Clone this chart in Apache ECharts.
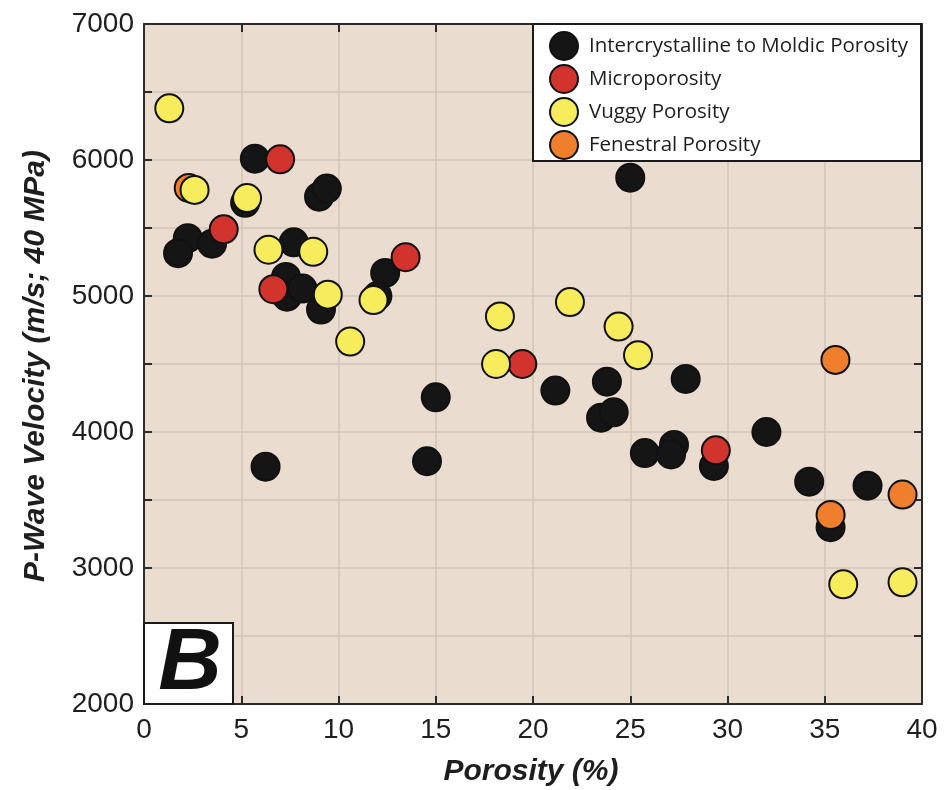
<!DOCTYPE html>
<html>
<head>
<meta charset="utf-8">
<script src="https://cdn.jsdelivr.net/npm/echarts@6/dist/echarts.min.js"></script>
<style>
  html, body { margin: 0; padding: 0; background: #ffffff; }
  #chart { width: 945px; height: 790px; }
</style>
</head>
<body>
<div id="chart"></div>
<script>
// Porosity (%) vs P-wave velocity (m/s) at 40 MPa, grouped by pore type
const seriesNames = [
  'Intercrystalline to Moldic Porosity',
  'Microporosity',
  'Vuggy Porosity',
  'Fenestral Porosity'
];

const intercrystalline = [
  [5.7, 6010], [5.2, 5685], [9.0, 5730], [9.4, 5790], [2.25, 5425],
  [3.5, 5385], [1.75, 5315], [7.7, 5395], [12.4, 5170], [7.3, 5140],
  [7.35, 4995], [8.15, 5055], [9.1, 4900], [12.0, 5000], [6.25, 3745],
  [15.0, 4255], [14.55, 3785], [25.0, 5870], [21.15, 4305], [23.8, 4370],
  [23.5, 4105], [24.15, 4145], [27.85, 4390], [25.75, 3845], [27.25, 3905],
  [27.1, 3835], [29.3, 3750], [32.0, 4000], [34.2, 3635], [37.2, 3605],
  [35.3, 3300]
];

const microporosity = [
  [7.0, 6005], [4.1, 5490], [13.45, 5285], [6.65, 5050], [19.45, 4500],
  [29.4, 3865]
];

const vuggy = [
  [1.3, 6380], [2.6, 5780], [5.3, 5720], [6.4, 5340], [8.7, 5325],
  [9.45, 5010], [11.8, 4970], [10.6, 4665], [18.3, 4850], [21.9, 4955],
  [24.4, 4775], [25.4, 4565], [18.1, 4500], [35.95, 2880], [39.0, 2895]
];

const fenestral = [
  [2.3, 5795], [35.55, 4530], [39.0, 3540], [35.3, 3390]
];

const xTicks = { min: 0, max: 40, step: 5 };
const yTicks = { min: 2000, max: 7000, step: 500, labelStep: 1000 };

const colors = ['#151515', '#d2332d', '#f6ec5c', '#ef7f2c'];
const zOrder = [2, 4, 5, 3];
const groups = [intercrystalline, microporosity, vuggy, fenestral];

const axisColor = '#2b2b2b';
const labelFont = 'Liberation Sans, Arial, sans-serif';

const chart = echarts.init(document.getElementById('chart'), null, { renderer: 'canvas' });

// mirror axes on the top and right close the frame, with inward ticks only
function frameAxis(extra) {
  return Object.assign({
    type: 'value',
    axisLine: { show: true, onZero: false, lineStyle: { color: axisColor, width: 2 } },
    axisTick: { show: true, inside: true, length: 8, lineStyle: { color: axisColor, width: 2 } },
    axisLabel: { show: false },
    splitLine: { show: false }
  }, extra);
}

const option = {
  animation: false,
  backgroundColor: '#ffffff',
  grid: {
    left: 144, right: 23, top: 24, bottom: 86,
    show: true, backgroundColor: '#eadccf', borderWidth: 0
  },
  xAxis: [
    {
      type: 'value', min: xTicks.min, max: xTicks.max, interval: xTicks.step,
      position: 'bottom',
      axisLine: { show: true, onZero: false, lineStyle: { color: axisColor, width: 2 } },
      axisTick: { show: true, inside: true, length: 8, lineStyle: { color: axisColor, width: 2 } },
      axisLabel: { color: '#1e1e1e', fontSize: 28, fontFamily: labelFont, margin: 12 },
      splitLine: { show: true, lineStyle: { color: '#d0c4b8', width: 1.5 } }
    },
    frameAxis({ min: xTicks.min, max: xTicks.max, interval: xTicks.step, position: 'top' })
  ],
  yAxis: [
    {
      type: 'value', min: yTicks.min, max: yTicks.max, interval: yTicks.step,
      position: 'left',
      axisLine: { show: true, onZero: false, lineStyle: { color: axisColor, width: 2 } },
      axisTick: { show: true, inside: true, length: 8, lineStyle: { color: axisColor, width: 2 } },
      axisLabel: {
        color: '#1e1e1e', fontSize: 28, fontFamily: labelFont, margin: 10,
        formatter: v => (v % yTicks.labelStep === 0 ? String(v) : '')
      },
      splitLine: { show: true, lineStyle: { color: '#d0c4b8', width: 1.5 } }
    },
    frameAxis({ min: yTicks.min, max: yTicks.max, interval: yTicks.step, position: 'right' })
  ],
  legend: {
    show: true,
    orient: 'vertical',
    left: 549, top: 31,
    padding: 0,
    itemWidth: 40, itemHeight: 28, itemGap: 3,
    data: seriesNames,
    textStyle: { color: '#1e1e1e', fontSize: 20.5, fontFamily: 'Open Sans, sans-serif' },
    z: 20
  },
  series: groups.map((d, i) => ({
    name: seriesNames[i],
    type: 'scatter',
    data: d,
    symbol: 'circle',
    symbolSize: 28,
    z: zOrder[i],
    itemStyle: {
      color: colors[i],
      borderColor: '#111111',
      borderWidth: 2,
      opacity: 1
    },
    emphasis: { disabled: true }
  })),
  graphic: [
    // legend frame
    {
      type: 'rect', z: 15, silent: true,
      shape: { x: 533, y: 24, width: 388, height: 137 },
      style: { fill: '#ffffff', stroke: '#1a1a1a', lineWidth: 2 }
    },
    // panel tag
    {
      type: 'rect', z: 15, silent: true,
      shape: { x: 144, y: 623, width: 89, height: 81 },
      style: { fill: '#ffffff', stroke: '#1a1a1a', lineWidth: 2 }
    },
    {
      type: 'text', z: 16, silent: true,
      x: 190, y: 665,
      style: {
        text: 'B', fill: '#111111',
        font: 'italic bold 88px Liberation Sans, Arial, sans-serif',
        align: 'center', verticalAlign: 'middle'
      }
    },
    // axis titles
    {
      type: 'text', z: 16, silent: true,
      x: 531, y: 772,
      style: {
        text: 'Porosity (%)', fill: '#1e1e1e',
        font: 'italic bold 30px Liberation Sans, Arial, sans-serif',
        align: 'center', verticalAlign: 'middle'
      }
    },
    {
      type: 'text', z: 16, silent: true,
      x: 36, y: 366, rotation: Math.PI / 2,
      style: {
        text: 'P-Wave Velocity (m/s; 40 MPa)', fill: '#1e1e1e',
        font: 'italic bold 30px Liberation Sans, Arial, sans-serif',
        align: 'center', verticalAlign: 'middle'
      }
    }
  ]
};

chart.setOption(option);
</script>
</body>
</html>
